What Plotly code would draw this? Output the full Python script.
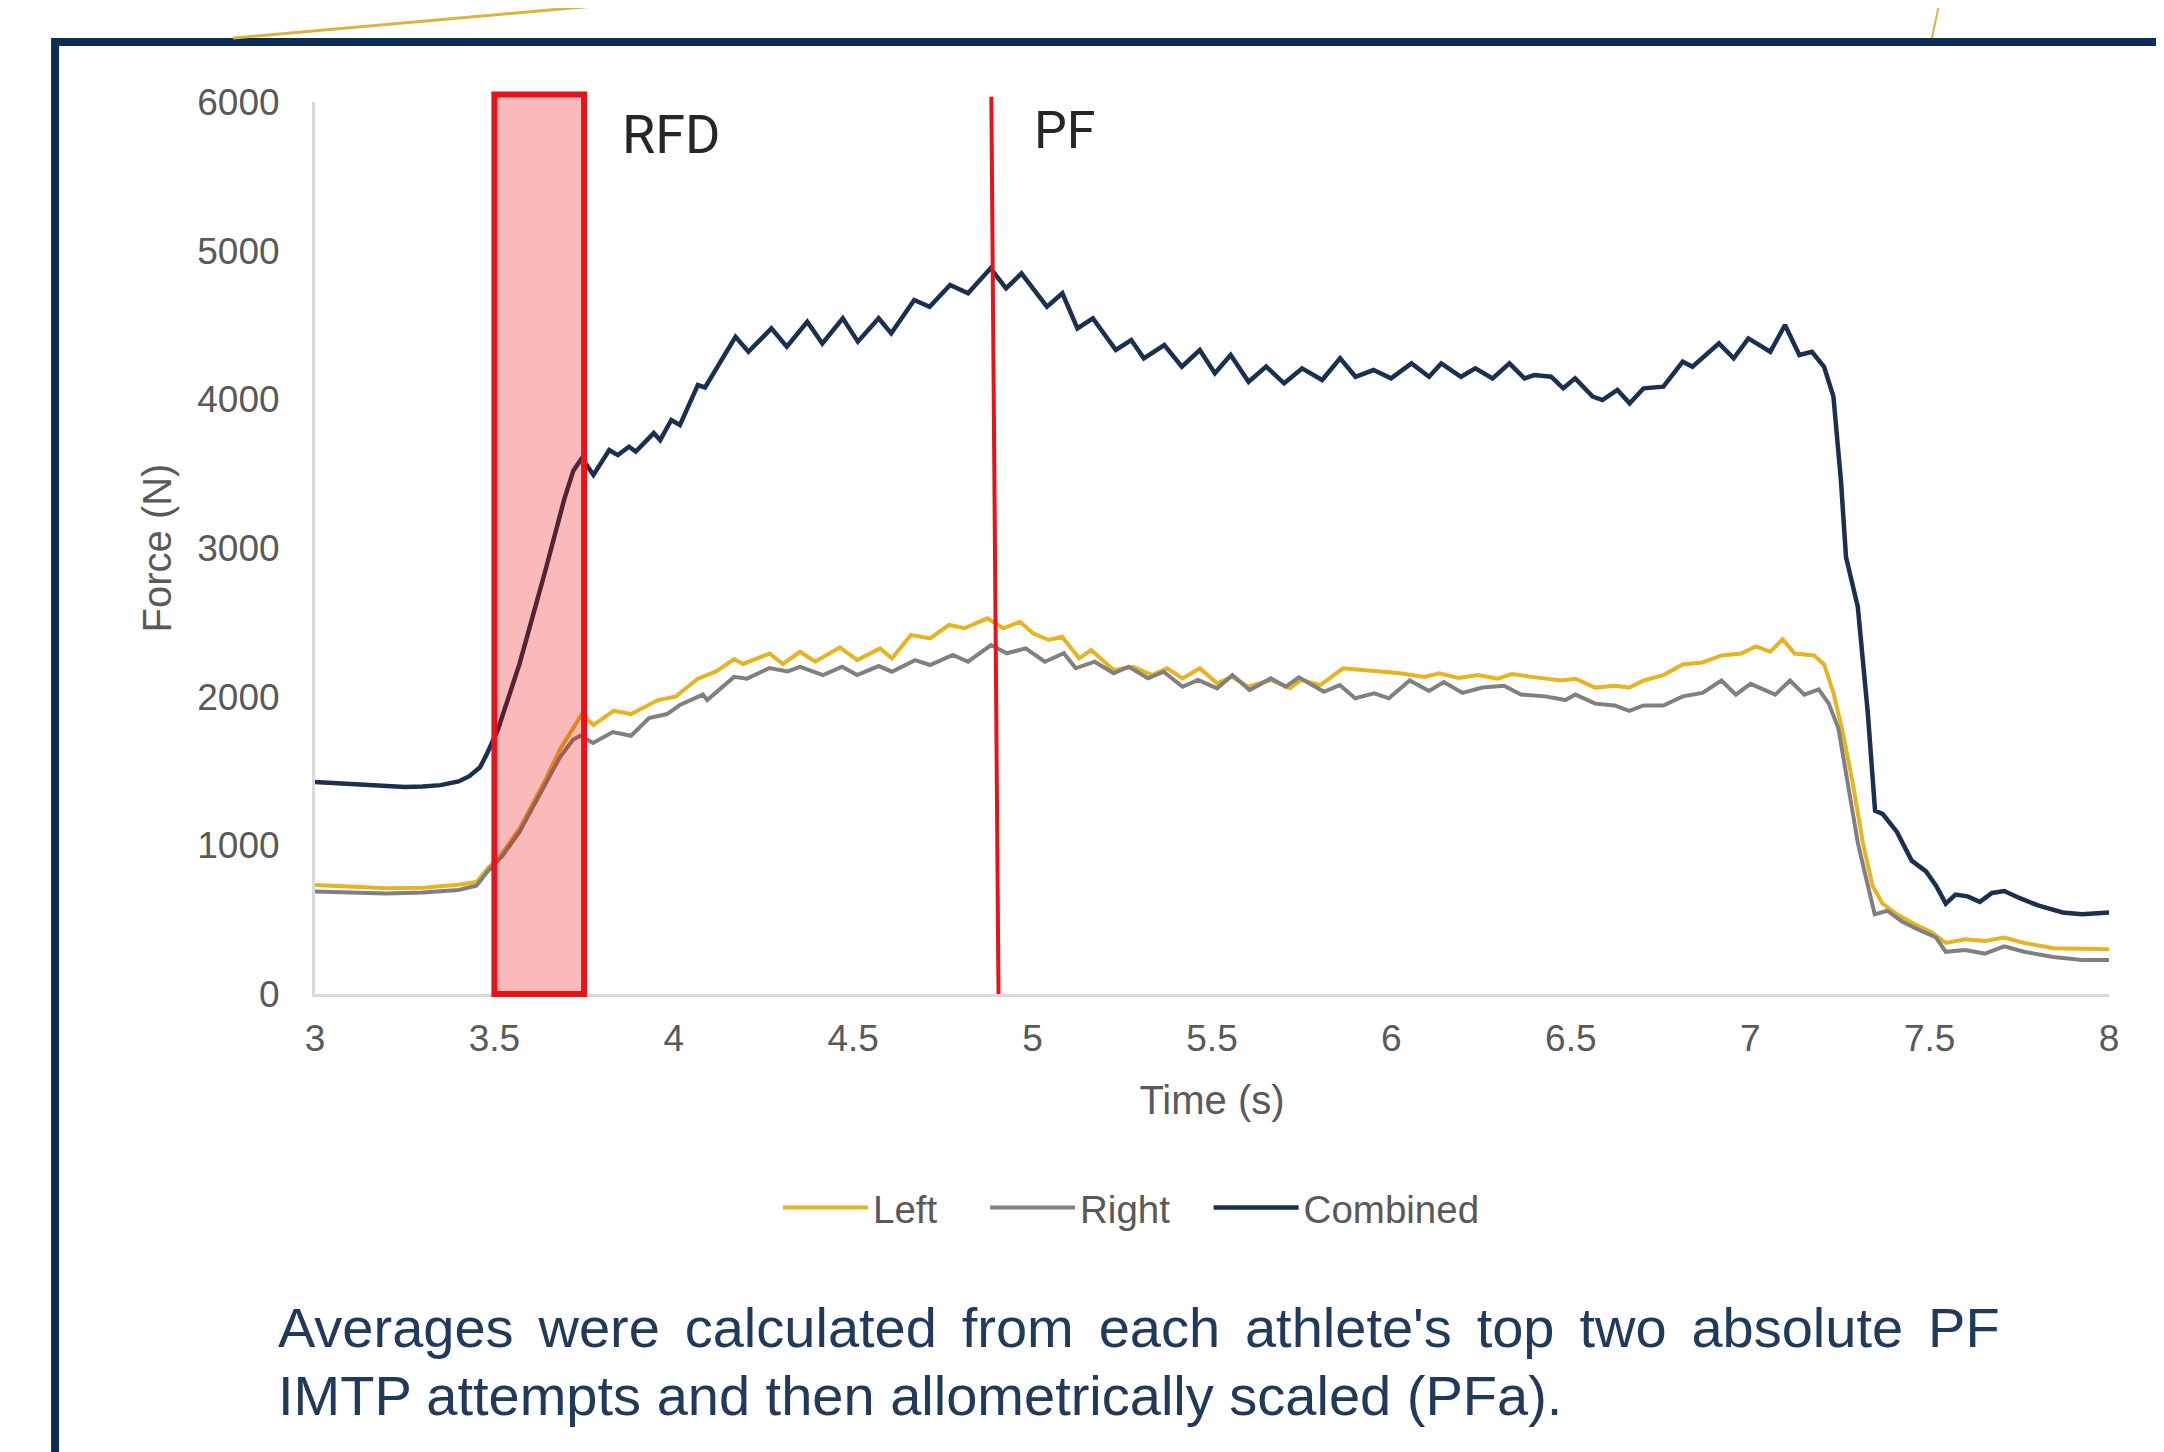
import plotly.graph_objects as go

# ---------------- data ----------------
combined_t = [3.00,3.05,3.10,3.15,3.20,3.25,3.30,3.35,3.40,3.43,
              3.46,3.48,3.51,3.57,3.64,3.695,3.72,3.744,3.776,3.820,
              3.844,3.875,3.894,3.944,3.962,3.993,4.017,4.067,4.087,4.172,
              4.208,4.272,4.315,4.372,4.414,4.471,4.513,4.571,4.606,4.670,
              4.713,4.770,4.820,4.883,4.926,4.969,5.040,5.083,5.125,5.168,
              5.232,5.275,5.310,5.367,5.416,5.466,5.508,5.552,5.602,5.651,
              5.701,5.751,5.807,5.857,5.900,5.950,5.999,6.056,6.105,6.139,
              6.194,6.234,6.282,6.329,6.371,6.398,6.445,6.479,6.512,6.561,
              6.588,6.630,6.664,6.703,6.758,6.812,6.839,6.913,6.954,6.995,
              7.056,7.097,7.137,7.172,7.206,7.232,7.253,7.267,7.300,7.328,
              7.348,7.369,7.409,7.450,7.490,7.518,7.545,7.572,7.606,7.640,
              7.674,7.708,7.750,7.802,7.871,7.925,8.000]
combined_f = [1426,1420,1412,1405,1398,1392,1395,1405,1430,1465,
              1525,1620,1780,2220,2830,3330,3520,3605,3491,3659,
              3625,3681,3648,3773,3726,3861,3827,4096,4080,4421,
              4320,4477,4354,4522,4376,4545,4388,4545,4444,4668,
              4623,4769,4713,4881,4746,4847,4623,4713,4477,4545,
              4332,4399,4276,4365,4220,4332,4175,4298,4118,4220,
              4108,4208,4130,4276,4152,4197,4141,4242,4152,4242,
              4152,4208,4141,4242,4141,4163,4152,4074,4141,4018,
              3995,4063,3973,4074,4085,4253,4219,4376,4276,4410,
              4320,4500,4298,4320,4219,4018,3450,2940,2603,1883,
              1233,1211,1090,897,825,728,608,669,657,620,
              680,693,646,596,548,536,548]

left_t = [3.00,3.10,3.20,3.30,3.40,3.45,3.483,3.521,3.570,3.607,
          3.644,3.682,3.719,3.744,3.776,3.832,3.881,3.956,4.006,4.067,
          4.118,4.168,4.193,4.267,4.304,4.352,4.394,4.463,4.511,4.575,
          4.608,4.661,4.714,4.767,4.810,4.874,4.918,4.965,5.001,5.045,
          5.082,5.130,5.163,5.194,5.226,5.280,5.333,5.375,5.418,5.466,
          5.514,5.556,5.600,5.664,5.717,5.748,5.802,5.865,5.929,6.024,
          6.092,6.133,6.187,6.241,6.296,6.336,6.391,6.473,6.513,6.568,
          6.622,6.663,6.703,6.758,6.812,6.867,6.920,6.975,7.016,7.056,
          7.090,7.124,7.178,7.206,7.232,7.258,7.287,7.314,7.341,7.369,
          7.409,7.463,7.504,7.545,7.599,7.654,7.708,7.763,7.845,7.925,
          8.000]
left_f = [733,720,712,715,735,753,848,944,1112,1281,
          1449,1641,1785,1883,1809,1905,1883,1977,2002,2121,
          2170,2253,2220,2290,2220,2302,2235,2332,2246,2325,
          2258,2415,2392,2482,2460,2527,2460,2504,2426,2381,
          2403,2258,2314,2246,2179,2201,2145,2191,2123,2191,
          2090,2134,2067,2112,2056,2112,2078,2191,2179,2157,
          2133,2157,2126,2145,2121,2152,2133,2109,2121,2061,
          2073,2061,2109,2145,2217,2230,2277,2290,2338,2302,
          2386,2290,2277,2217,2025,1762,1401,1016,728,608,
          536,464,417,344,368,356,380,344,308,301,
          301]

right_t = [3.00,3.10,3.20,3.30,3.40,3.45,3.483,3.521,3.570,3.607,
           3.644,3.682,3.719,3.739,3.775,3.830,3.881,3.931,3.981,4.017,
           4.081,4.093,4.168,4.204,4.267,4.317,4.352,4.416,4.469,4.511,
           4.571,4.608,4.672,4.714,4.778,4.820,4.884,4.928,4.981,5.034,
           5.087,5.120,5.173,5.226,5.268,5.322,5.365,5.418,5.461,5.514,
           5.557,5.605,5.664,5.706,5.742,5.812,5.856,5.899,5.952,5.993,
           6.051,6.105,6.146,6.198,6.254,6.314,6.361,6.429,6.485,6.513,
           6.568,6.622,6.663,6.703,6.758,6.812,6.867,6.920,6.960,7.001,
           7.070,7.111,7.151,7.191,7.219,7.246,7.273,7.300,7.328,7.347,
           7.382,7.423,7.463,7.518,7.545,7.599,7.654,7.708,7.763,7.845,
           7.925,8.000]
right_f = [690,680,676,682,700,728,830,925,1090,1255,
           1420,1590,1710,1737,1688,1762,1737,1856,1883,1944,
           2014,1977,2133,2121,2193,2170,2201,2145,2201,2145,
           2206,2168,2246,2213,2280,2235,2347,2292,2325,2235,
           2292,2191,2235,2157,2201,2123,2168,2067,2112,2056,
           2145,2045,2123,2067,2130,2033,2078,1989,2022,1989,
           2109,2038,2098,2025,2061,2073,2014,2002,1977,2014,
           1953,1941,1905,1941,1941,2002,2025,2109,2014,2086,
           2014,2109,2014,2049,1953,1785,1401,1016,728,536,
           560,488,440,380,284,296,272,320,284,249,
           229,229]

x_ticks = [3, 3.5, 4, 4.5, 5, 5.5, 6, 6.5, 7, 7.5, 8]
x_ticktext = ["3", "3.5", "4", "4.5", "5", "5.5", "6", "6.5", "7", "7.5", "8"]
y_ticks = [0, 1000, 2000, 3000, 4000, 5000, 6000]

rfd_window = [3.5, 3.75]                    # s
pf_time_top, pf_time_bottom = 4.885, 4.905  # s (marker drawn slightly slanted)

caption_line1 = "Averages were calculated from each athlete's top two absolute PF"
caption_line2 = "IMTP attempts and then allometrically scaled (PFa)."

assert len(combined_t) == len(combined_f)
assert len(left_t) == len(left_f)
assert len(right_t) == len(right_f)

# ---------------- figure ----------------
TICK = "#595959"
FONT = "Liberation Sans, Arial, sans-serif"
RED = "#e8121a"

fig = go.Figure()
fig.add_trace(go.Scatter(x=left_t, y=left_f, mode="lines", name="Left",
                         line=dict(color="#e6b422", width=4), legend="legend"))
fig.add_trace(go.Scatter(x=right_t, y=right_f, mode="lines", name="Right",
                         line=dict(color="#808080", width=4), legend="legend2"))
fig.add_trace(go.Scatter(x=combined_t, y=combined_f, mode="lines", name="Combined",
                         line=dict(color="#1b3050", width=4.5), legend="legend3"))

shapes = [
    # RFD window (x in data, y in plot fraction so it can poke above the axis top)
    dict(type="rect", xref="x", yref="paper", x0=rfd_window[0], x1=rfd_window[1],
         y0=0, y1=1.0085, line=dict(color=RED, width=6),
         fillcolor="rgba(235,0,0,0.27)", layer="above"),
    # PF marker line
    dict(type="line", xref="x", yref="paper", x0=pf_time_top, x1=pf_time_bottom,
         y0=1.006, y1=0, line=dict(color=RED, width=4), layer="above"),
    # slide frame
    dict(type="rect", xref="paper", yref="paper", x0=-0.1449, x1=1.08,
         y0=-0.62, y1=1.0673, line=dict(color="#0f2d54", width=8),
         fillcolor="rgba(0,0,0,0)", layer="below"),
    # decorative gold lines above the frame
    dict(type="line", xref="paper", yref="paper", x0=-0.0457, y0=1.0717,
         x1=0.1934, y1=1.1143, line=dict(color="#d8b447", width=3), layer="below"),
    dict(type="line", xref="paper", yref="paper", x0=0.9013, y0=1.0717,
         x1=0.9058, y1=1.1143, line=dict(color="#d8b447", width=2), layer="below"),
]

annotations = [
    dict(text="RFD", xref="x", yref="y", x=3.85, y=5784, xanchor="left",
         yanchor="middle", showarrow=False,
         font=dict(family="Roboto, sans-serif", size=54, color="#262626")),
    dict(text="PF", xref="x", yref="y", x=4.998, y=5811, xanchor="left",
         yanchor="middle", showarrow=False,
         font=dict(family="Roboto, sans-serif", size=52, color="#262626")),
    dict(text=caption_line1.replace(" ", " \u2006"), xref="paper", yref="paper",
         x=-0.0217, y=-0.3744, xanchor="left", yanchor="middle", showarrow=False,
         font=dict(family=FONT, size=56, color="#213a5c")),
    dict(text=caption_line2, xref="paper", yref="paper",
         x=-0.0217, y=-0.4496, xanchor="left", yanchor="middle", showarrow=False,
         font=dict(family=FONT, size=56, color="#213a5c")),
]

legend_style = dict(orientation="h", y=-0.2399, xanchor="left", yanchor="middle",
                    font=dict(family=FONT, size=38.5, color=TICK),
                    itemwidth=85, bgcolor="rgba(0,0,0,0)")

# page body adds an 8px offset; margins compensate so the plot lands where it should
fig.update_layout(
    width=2164, height=1452,
    margin=dict(l=307, r=63, t=94, b=466),
    paper_bgcolor="white", plot_bgcolor="white",
    font=dict(family=FONT, color=TICK),
    shapes=shapes, annotations=annotations,
    showlegend=True,
    legend=dict(x=0.2581, **legend_style),
    legend2=dict(x=0.3735, **legend_style),
    legend3=dict(x=0.4981, **legend_style),
    xaxis=dict(range=[3, 8], tickvals=x_ticks, ticktext=x_ticktext,
               showline=True, linecolor="#d9d9d9", linewidth=3,
               showgrid=False, zeroline=False,
               ticks="outside", ticklen=10, tickcolor="rgba(0,0,0,0)",
               tickfont=dict(family=FONT, size=37, color=TICK),
               title=dict(text="Time (s)", font=dict(family=FONT, size=40, color=TICK),
                          standoff=28)),
    yaxis=dict(range=[0, 6000], tickvals=y_ticks,
               showline=True, linecolor="#d9d9d9", linewidth=3,
               showgrid=False, zeroline=False,
               ticks="outside", ticklen=25, tickcolor="rgba(0,0,0,0)",
               tickfont=dict(family=FONT, size=37, color=TICK),
               title=dict(text="Force (N)", font=dict(family=FONT, size=40, color=TICK),
                          standoff=14)),
)

fig.write_html("out.html")
